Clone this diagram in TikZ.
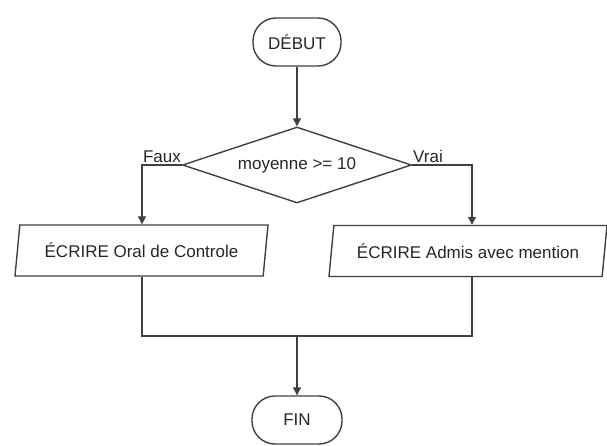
\documentclass[tikz,border=0pt]{standalone}
\usepackage{fontspec}
\setmainfont{Liberation Sans}
\usetikzlibrary{arrows.meta,shapes.geometric}
\begin{document}
\begin{tikzpicture}[x=1pt,y=-1pt,
  every node/.style={font=\fontsize{17}{20}\selectfont, text=black!85},
  line/.style={draw=black!75, line width=1.4pt},
  flow/.style={line, -{Triangle[width=8pt,length=8pt]}},
  terminal/.style={line, rectangle, rounded corners=23pt, minimum width=88pt, minimum height=48pt, inner sep=0pt},
  decision/.style={line, diamond, minimum width=229pt, minimum height=76pt, inner sep=0pt, aspect=3},
  io/.style={line, trapezium, trapezium left angle=72, trapezium right angle=108, trapezium stretches body, minimum height=51pt, inner sep=0pt},
  lbl/.style={font=\fontsize{17}{20}\selectfont}]
\useasboundingbox (0,0) rectangle (607,446);

\node[terminal] (debut) at (297,42) {DÉBUT};
\node[decision] (test) at (297,165) {moyenne >= 10};
\node[io, minimum width=253pt] (oral) at (141.5,250.5) {ÉCRIRE Oral de Controle};
\node[io, minimum width=278pt] (admis) at (468,251) {ÉCRIRE Admis avec mention};
\node[terminal, minimum width=90pt] (fin) at (297,420) {FIN};

\coordinate (xl) at (142,0);
\coordinate (xr) at (472,0);
\coordinate (join) at (297,336);

\draw[flow] (debut) -- (test);
\draw[flow] (test.west) -- (test.west -| xl) -- (xl |- oral.north);
\draw[flow] (test.east) -- (test.east -| xr) -- (xr |- admis.north);
\draw[line] (xl |- oral.south) -- (xl |- join) -- (xr |- join) -- (xr |- admis.south);
\draw[flow] (join) -- (fin);

\node[lbl, anchor=south, inner sep=2pt] (faux) at (162,165) {Faux};
\node[lbl, anchor=south, inner sep=2pt] (vrai) at (428,165) {Vrai};
\end{tikzpicture}
\end{document}
